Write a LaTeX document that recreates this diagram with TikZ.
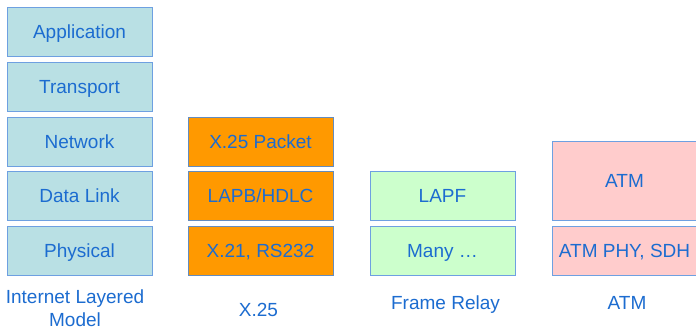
\documentclass[tikz,border=0pt]{standalone}
\usepackage{fontspec}
\setmainfont{Liberation Sans}
\definecolor{txt}{RGB}{28,108,208}
\definecolor{bordA}{RGB}{110,160,225}
\definecolor{bordB}{RGB}{100,140,190}
\definecolor{fillA}{RGB}{185,224,228}
\definecolor{fillB}{RGB}{255,153,0}
\definecolor{fillC}{RGB}{204,255,204}
\definecolor{fillD}{RGB}{255,204,204}
\tikzset{
  layerbox/.style={draw=bordA, line width=1pt, minimum width=145pt, minimum height=49pt,
    inner sep=0pt, text height=13.7pt, text depth=0pt, text=txt,
    font=\fontsize{19}{23}\selectfont},
  stacklabel/.style={text=txt, inner sep=0pt, font=\fontsize{19}{23}\selectfont}
}
\begin{document}
\begin{tikzpicture}[x=1pt,y=-1pt]
\useasboundingbox[fill=white] (0,0) rectangle (696,327);
% Internet layered model
\node[layerbox, fill=fillA] (app) at (79.5,31.5) {Application};
\node[layerbox, fill=fillA] (tra) at (79.5,86.5) {Transport};
\node[layerbox, fill=fillA] (net) at (79.5,141.5) {Network};
\node[layerbox, fill=fillA] (dl)  at (79.5,196) {Data Link};
\node[layerbox, fill=fillA] (phy) at (79.5,250.5) {Physical};
% X.25
\node[layerbox, fill=fillB, draw=bordB] (xpk) at (260.5,141.5) {X.25 Packet};
\node[layerbox, fill=fillB, draw=bordB] (lapb) at (260.5,196) {LAPB/HDLC};
\node[layerbox, fill=fillB, draw=bordB] (x21) at (260.5,250.5) {X.21, RS232};
% Frame relay
\node[layerbox, fill=fillC] (lapf) at (442.5,195.5) {LAPF};
\node[layerbox, fill=fillC] (many) at (442.5,250.5) {Many …};
% ATM
\node[layerbox, fill=fillD, minimum height=79pt] (atm) at (624.5,180.5) {ATM};
\node[layerbox, fill=fillD] (atmphy) at (624.5,250.5) {ATM PHY, SDH};
% labels
\node[stacklabel, align=center] (lbl1) at (75,308.5) {Internet Layered\\Model};
\node[stacklabel, anchor=base] (lbl2) at (258.5,316) {X.25};
\node[stacklabel, anchor=base] (lbl3) at (445.5,309) {Frame Relay};
\node[stacklabel, anchor=base] (lbl4) at (627,309) {ATM};
\end{tikzpicture}
\end{document}
